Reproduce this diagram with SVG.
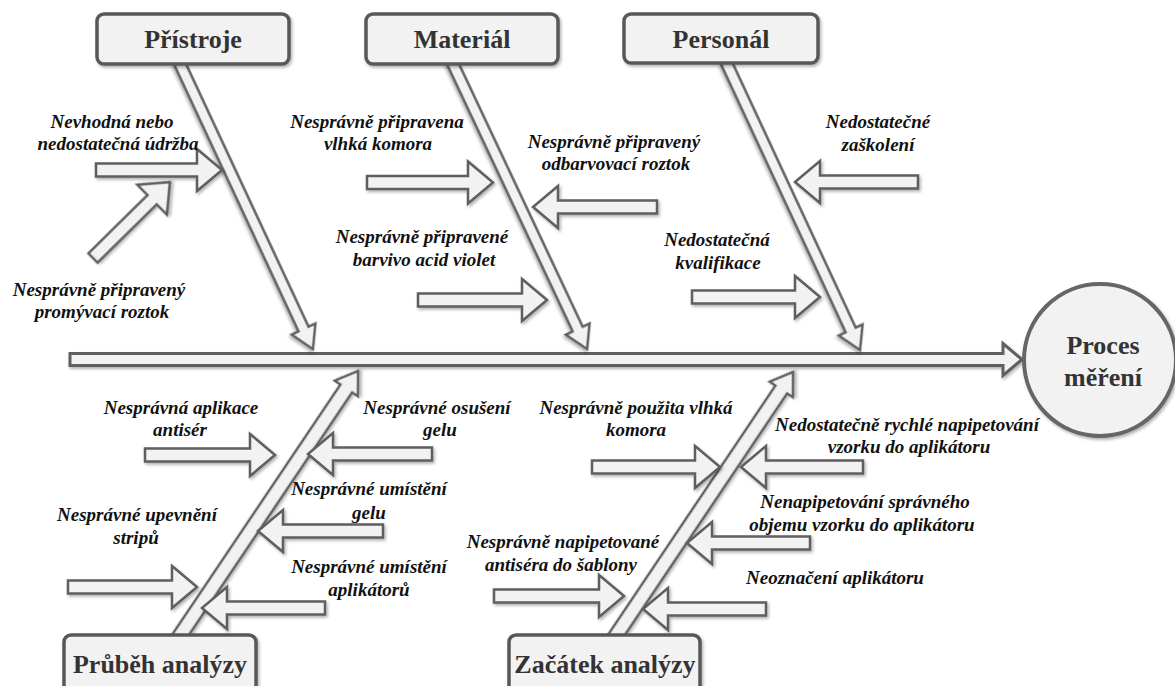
<svg xmlns="http://www.w3.org/2000/svg" width="1175" height="686" viewBox="0 0 1175 686">
  <defs>
    <filter id="shadow" x="-20%" y="-20%" width="140%" height="140%">
      <feDropShadow dx="1.5" dy="2" stdDeviation="1.4" flood-color="#000" flood-opacity="0.3"/>
    </filter>
    <style>
      .block { fill: #f2f2f2; stroke: #5e5e5e; stroke-width: 2.5; stroke-linejoin: miter; filter: url(#shadow); }
      .spine { fill: #f2f2f2; stroke: #5e5e5e; stroke-width: 3; filter: url(#shadow); }
      .box { fill: #f2f2f2; stroke: #595959; stroke-width: 3.5; filter: url(#shadow); }
      .head { font-family: "Liberation Serif", "DejaVu Serif", "Times New Roman", serif; font-weight: 700; font-size: 26px; fill: #333; text-anchor: middle; }
      .cause { font-family: "Liberation Serif", "DejaVu Serif", "Times New Roman", serif; font-weight: 700; font-style: italic; font-size: 19px; fill: #111; text-anchor: middle; }
    </style>
  </defs>

  <!-- main spine, category bones and cause arrows -->
  <g id="connectors">
    <polygon class="spine" points="70,353.5 1003,353.5 1003,343.5 1022,359.5 1003,375.5 1003,365.5 70,365.5"/>

    <!-- category bones -->
    <path class="block" transform="translate(179,62) rotate(65)" d="M0,-5.5 H294.7 V-13 L316.7,0 L294.7,13 V5.5 H0 Z"/>
    <path class="block" transform="translate(452,62) rotate(64.8)" d="M0,-5.5 H295.2 V-13 L317.2,0 L295.2,13 V5.5 H0 Z"/>
    <path class="block" transform="translate(726,62) rotate(65.05)" d="M0,-5.5 H295.6 V-13 L317.6,0 L295.6,13 V5.5 H0 Z"/>
    <path class="block" transform="translate(177,640) rotate(-56.06)" d="M0,-7 H303.2 V-14 L324.2,0 L303.2,14 V7 H0 Z"/>
    <path class="block" transform="translate(613,640) rotate(-56.11)" d="M0,-7 H301.8 V-14 L322.8,0 L301.8,14 V7 H0 Z"/>

    <!-- cause arrows: Přístroje -->
    <polygon class="block" points="96,163.5 197,163.5 197,149 222,170 197,191 197,176.5 96,176.5"/>
    <path class="block" transform="translate(93,258) rotate(-44.6)" d="M0,-6.5 H83 V-21 L108,0 L83,21 V6.5 H0 Z"/>
    <!-- cause arrows: Materiál -->
    <polygon class="block" points="367,176 468,176 468,161.5 493,182.5 468,203.5 468,189 367,189"/>
    <polygon class="block" points="657,200.5 558,200.5 558,186 533,207 558,228 558,213.5 657,213.5"/>
    <polygon class="block" points="418,293.5 522,293.5 522,279 547,300 522,321 522,306.5 418,306.5"/>
    <!-- cause arrows: Personál -->
    <polygon class="block" points="918,175.5 820,175.5 820,161 795,182 820,203 820,188.5 918,188.5"/>
    <polygon class="block" points="692,290.5 795,290.5 795,276 820,297 795,318 795,303.5 692,303.5"/>
    <!-- cause arrows: Průběh analýzy -->
    <polygon class="block" points="145,448.5 250,448.5 250,434 275,455 250,476 250,461.5 145,461.5"/>
    <polygon class="block" points="432,447.5 333,447.5 333,433 308,454 333,475 333,460.5 432,460.5"/>
    <polygon class="block" points="383,524.5 283,524.5 283,510 258,531 283,552 283,537.5 383,537.5"/>
    <polygon class="block" points="68,580.5 172,580.5 172,566 197,587 172,608 172,593.5 68,593.5"/>
    <polygon class="block" points="325,601.5 227,601.5 227,587 202,608 227,629 227,614.5 325,614.5"/>
    <!-- cause arrows: Začátek analýzy -->
    <polygon class="block" points="592,460.5 695,460.5 695,446 720,467 695,488 695,473.5 592,473.5"/>
    <polygon class="block" points="863,460.5 766,460.5 766,446 741,467 766,488 766,473.5 863,473.5"/>
    <polygon class="block" points="810,536.5 712,536.5 712,522 687,543 712,564 712,549.5 810,549.5"/>
    <polygon class="block" points="494,589.5 599,589.5 599,575 624,596 599,617 599,602.5 494,602.5"/>
    <polygon class="block" points="766,602.5 668,602.5 668,588 643,609 668,630 668,615.5 766,615.5"/>
  </g>

  <!-- category boxes -->
  <g id="pristroje">
    <rect class="box" x="97" y="14" width="192" height="50" rx="7"/>
    <text class="head" x="193" y="48">Přístroje</text>
  </g>
  <g id="material">
    <rect class="box" x="366" y="14" width="192" height="50" rx="7"/>
    <text class="head" x="462" y="48">Materiál</text>
  </g>
  <g id="personal">
    <rect class="box" x="624" y="14" width="194" height="49" rx="7"/>
    <text class="head" x="721" y="48">Personál</text>
  </g>
  <g id="prubeh-analyzy">
    <rect class="box" x="64" y="635" width="192" height="60" rx="7"/>
    <text class="head" x="160" y="673">Průběh analýzy</text>
  </g>
  <g id="zacatek-analyzy">
    <rect class="box" x="509" y="635" width="191" height="60" rx="7"/>
    <text class="head" x="605" y="673">Začátek analýzy</text>
  </g>

  <!-- effect -->
  <g id="proces-mereni">
    <circle cx="1100" cy="360" r="76" fill="#f2f2f2" stroke="#666" stroke-width="4" filter="url(#shadow)"/>
    <text class="head" x="1103" y="354">Proces</text>
    <text class="head" x="1103" y="386">měření</text>
  </g>

  <!-- cause labels -->
  <g id="cause-udrzba">
    <text class="cause" x="112" y="128">Nevhodná nebo</text>
    <text class="cause" x="118" y="150">nedostatečná údržba</text>
  </g>
  <g id="cause-promyvaci-roztok">
    <text class="cause" x="99" y="296">Nesprávně připravený</text>
    <text class="cause" x="102" y="318">promývací roztok</text>
  </g>
  <g id="cause-vlhka-komora">
    <text class="cause" x="377" y="128">Nesprávně připravena</text>
    <text class="cause" x="378" y="150">vlhká komora</text>
  </g>
  <g id="cause-odbarvovaci-roztok">
    <text class="cause" x="614" y="148">Nesprávně připravený</text>
    <text class="cause" x="616" y="170">odbarvovací roztok</text>
  </g>
  <g id="cause-barvivo">
    <text class="cause" x="422" y="243">Nesprávně připravené</text>
    <text class="cause" x="424" y="266">barvivo acid violet</text>
  </g>
  <g id="cause-zaskoleni">
    <text class="cause" x="878" y="128">Nedostatečné</text>
    <text class="cause" x="878" y="151">zaškolení</text>
  </g>
  <g id="cause-kvalifikace">
    <text class="cause" x="717" y="246">Nedostatečná</text>
    <text class="cause" x="718" y="269">kvalifikace</text>
  </g>
  <g id="cause-aplikace-antiser">
    <text class="cause" x="181" y="414">Nesprávná aplikace</text>
    <text class="cause" x="180" y="436">antisér</text>
  </g>
  <g id="cause-osuseni-gelu">
    <text class="cause" x="437" y="414">Nesprávné osušení</text>
    <text class="cause" x="440" y="436">gelu</text>
  </g>
  <g id="cause-umisteni-gelu">
    <text class="cause" x="369" y="495">Nesprávné umístění</text>
    <text class="cause" x="369" y="519">gelu</text>
  </g>
  <g id="cause-upevneni-stripu">
    <text class="cause" x="137" y="521">Nesprávné upevnění</text>
    <text class="cause" x="136" y="544">stripů</text>
  </g>
  <g id="cause-umisteni-aplikatoru">
    <text class="cause" x="369" y="573">Nesprávné umístění</text>
    <text class="cause" x="369" y="596">aplikátorů</text>
  </g>
  <g id="cause-pouzita-komora">
    <text class="cause" x="636" y="414">Nesprávně použita vlhká</text>
    <text class="cause" x="636" y="436">komora</text>
  </g>
  <g id="cause-rychlost-pipetovani">
    <text class="cause" x="907" y="431">Nedostatečně rychlé napipetování</text>
    <text class="cause" x="909" y="453">vzorku do aplikátoru</text>
  </g>
  <g id="cause-objem-vzorku">
    <text class="cause" x="865" y="508">Nenapipetování správného</text>
    <text class="cause" x="862" y="531">objemu vzorku do aplikátoru</text>
  </g>
  <g id="cause-antisera-sablona">
    <text class="cause" x="563" y="548">Nesprávně napipetované</text>
    <text class="cause" x="561" y="571">antiséra do šablony</text>
  </g>
  <g id="cause-oznaceni-aplikatoru">
    <text class="cause" x="835" y="584">Neoznačení aplikátoru</text>
  </g>
</svg>
